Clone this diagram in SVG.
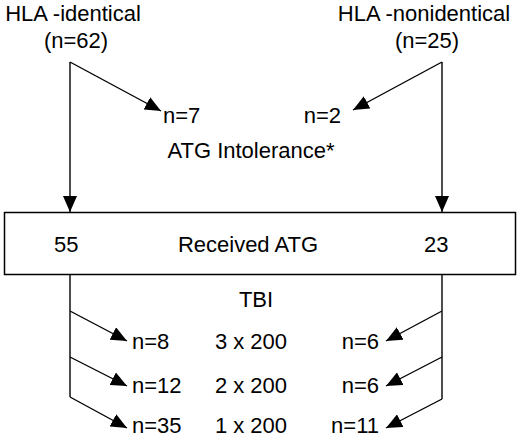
<svg xmlns="http://www.w3.org/2000/svg" width="520" height="438" viewBox="0 0 520 438">
<style>
text{font-family:"Liberation Sans",Arial,sans-serif;font-size:22px;fill:#000}
.ln{stroke:#000;stroke-width:1.4;fill:none}
.m{text-anchor:middle}
.e{text-anchor:end}
</style>
<defs>
<marker id="ah" markerUnits="userSpaceOnUse" markerWidth="16" markerHeight="14" viewBox="0 0 16 14" refX="16" refY="7" orient="auto">
<path d="M0,0 L16,7 L0,14 Z" fill="#000"/>
</marker>
</defs>
<rect width="520" height="438" fill="#fff"/>
<g id="hla-identical"><text x="73" y="21" class="m">HLA -identical</text><text x="76" y="48" class="m">(n=62)</text></g>
<g id="hla-nonidentical"><text x="424" y="21" class="m">HLA -nonidentical</text><text x="427" y="48" class="m">(n=25)</text></g>
<g id="intolerance"><text x="163" y="123">n=7</text><text x="341" y="123" class="e">n=2</text><text x="251" y="158" class="m">ATG Intolerance*</text></g>
<g id="received"><rect x="4.5" y="212.5" width="511" height="62" fill="#fff" stroke="#000" stroke-width="1.5"/><text x="54" y="252">55</text><text x="248" y="252" class="m">Received ATG</text><text x="424" y="252">23</text></g>
<g id="tbi"><text x="256" y="307" class="m">TBI</text>
<text x="132" y="349">n=8</text><text x="251" y="349" class="m">3 x 200</text><text x="379" y="349" class="e">n=6</text>
<text x="132" y="393">n=12</text><text x="251" y="393" class="m">2 x 200</text><text x="379" y="393" class="e">n=6</text>
<text x="132" y="433">n=35</text><text x="251" y="433" class="m">1 x 200</text><text x="379" y="433" class="e">n=11</text></g>
<g id="connectors" class="ln">
<line x1="70" y1="62" x2="70" y2="212" marker-end="url(#ah)"/>
<line x1="70" y1="62" x2="161" y2="111" marker-end="url(#ah)"/>
<line x1="442" y1="62" x2="442" y2="212" marker-end="url(#ah)"/>
<line x1="442" y1="62" x2="353" y2="110" marker-end="url(#ah)"/>
<line x1="70" y1="275" x2="70" y2="397"/>
<line x1="70" y1="311" x2="127" y2="341" marker-end="url(#ah)"/>
<line x1="70" y1="357" x2="127" y2="386" marker-end="url(#ah)"/>
<line x1="70" y1="397" x2="127" y2="428" marker-end="url(#ah)"/>
<line x1="442" y1="275" x2="442" y2="399"/>
<line x1="442" y1="311" x2="386" y2="341" marker-end="url(#ah)"/>
<line x1="442" y1="357" x2="386" y2="386" marker-end="url(#ah)"/>
<line x1="442" y1="399" x2="386" y2="428" marker-end="url(#ah)"/>
</g>
</svg>
